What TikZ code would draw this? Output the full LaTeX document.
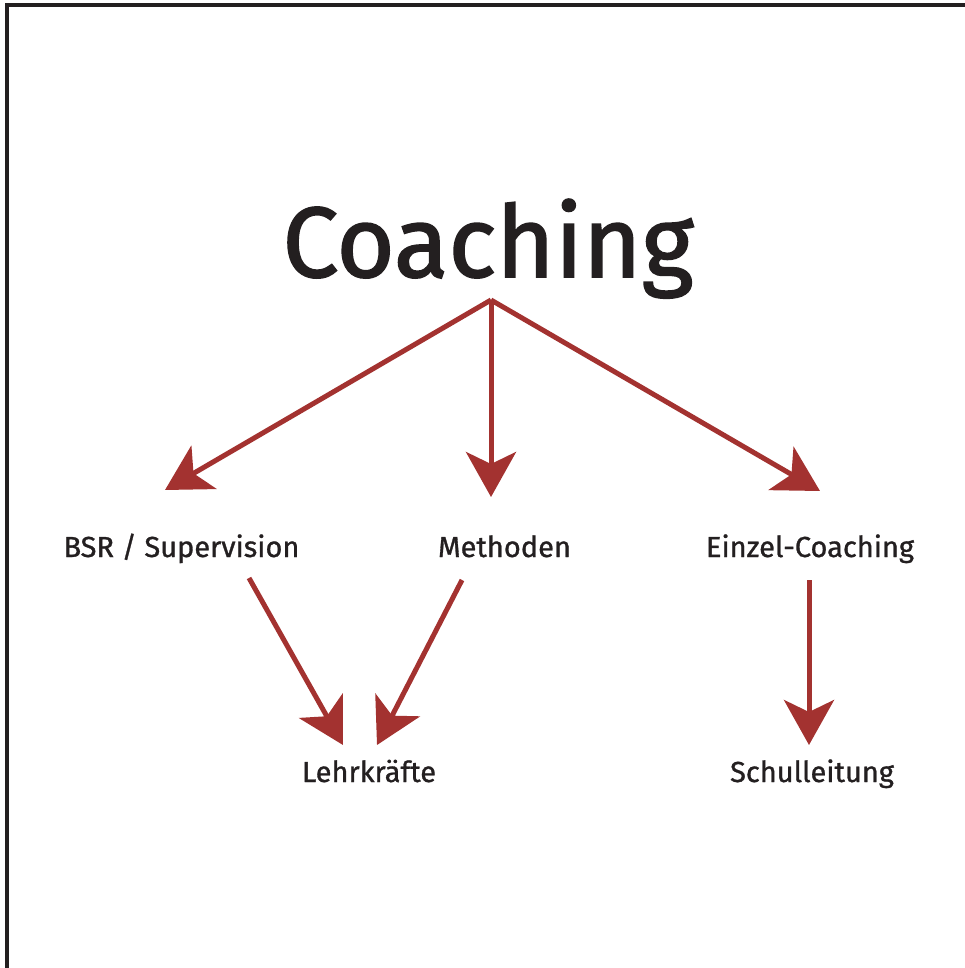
\documentclass[tikz,border=0pt]{standalone}
\usepackage{fontspec}
\setmainfont{Fira Sans}
\newfontfamily\headfont[FakeBold=1.6]{Fira Sans}
\newfontfamily\leaffont[FakeBold=1.0]{Fira Sans}
\usetikzlibrary{arrows.meta, calc, positioning}
\definecolor{coachred}{RGB}{163,50,48}
\definecolor{inkblack}{RGB}{35,31,32}
\begin{document}
\begin{tikzpicture}[x=1pt, y=-1pt, >={Stealth[length=45pt, width=50pt, inset=12pt]}]
    \tikzstyle{title}=[inner sep=0pt, anchor=base, text=inkblack, font=\headfont\fontsize{100}{104}\selectfont]
    \tikzstyle{leaf}=[inner sep=0pt, anchor=base, text=inkblack, font=\leaffont\fontsize{29}{32}\selectfont]
    \tikzstyle{link}=[->, draw=coachred, line width=5pt]

    \useasboundingbox (0,0) rectangle (965,968);

    % Draw the frame (left and top edge only)
    \draw[line width=3.5pt, inkblack] (7,968) -- (7,5) -- (965,5);

    % Draw the title and the apex of the arrows
    \node[title] (coach) at (488,277) {Coaching};
    \coordinate (apex) at (491,300);

    % Draw the second row
    \node[leaf] (bsr) at (181.5,557) {BSR / Supervision};
    \node[leaf] (meth) at (504.5,557) {Methoden};
    \node[leaf] (einzel) at (810,557) {Einzel-Coaching};

    % Draw the third row
    \node[leaf] (lehr) at (369,782) {Lehrkräfte};
    \node[leaf] (schul) at (812,782) {Schulleitung};

    % Connect the title with the second row
    \draw[link] (apex) -- ([xshift=-16.5pt, yshift=67pt]bsr.base);
    \draw[link] (apex) -- ([xshift=-13.5pt, yshift=60pt]meth.base);
    \draw[link] (apex) -- ([xshift=10pt, yshift=66pt]einzel.base);

    % Connect the second row with the third row
    \draw[link] ([xshift=67.5pt, yshift=-21pt]bsr.base) -- ([xshift=-26pt, yshift=37pt]lehr.base);
    \draw[link] ([xshift=-42.5pt, yshift=-23pt]meth.base) -- ([xshift=8pt, yshift=37pt]lehr.base);
    \draw[link] ([xshift=-1pt, yshift=-23pt]einzel.base) -- ([xshift=-3pt, yshift=37pt]schul.base);
\end{tikzpicture}
\end{document}
